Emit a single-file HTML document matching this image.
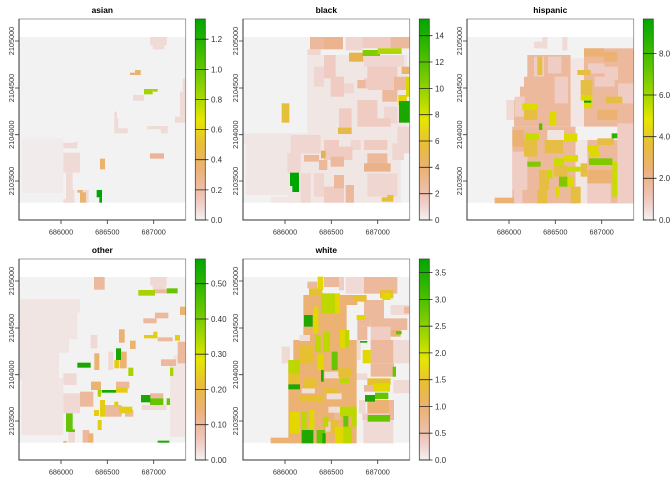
<!DOCTYPE html>
<html><head><meta charset="utf-8"><style>
html,body{margin:0;padding:0;background:#fff;}
svg{display:block;}
.t{font-family:"Liberation Sans",sans-serif;font-weight:bold;font-size:8.4px;fill:#000;text-anchor:middle;}
.ax{font-family:"Liberation Sans",sans-serif;font-size:7.3px;fill:#333;text-anchor:middle;}
.lg{font-family:"Liberation Sans",sans-serif;font-size:8px;fill:#333;}
</style></head><body>
<svg width="672" height="480" viewBox="0 0 672 480" xmlns="http://www.w3.org/2000/svg">
<defs>
<linearGradient id="g" x1="0" y1="1" x2="0" y2="0">
<stop offset="0" stop-color="#F2F2F2"/>
<stop offset="0.0625" stop-color="#F0D6D2"/>
<stop offset="0.125" stop-color="#EFC2B3"/>
<stop offset="0.25" stop-color="#ECB176"/>
<stop offset="0.375" stop-color="#E9BD3A"/>
<stop offset="0.5" stop-color="#E6E600"/>
<stop offset="0.625" stop-color="#A0D600"/>
<stop offset="0.75" stop-color="#63C600"/>
<stop offset="0.875" stop-color="#2DB600"/>
<stop offset="1" stop-color="#00A600"/>
</linearGradient>
<g id="axes">
<rect x="19" y="19" width="166.7" height="201" fill="none" stroke="#8a8a8a" stroke-width="0.8"/>
<path d="M19 19V220H185.7" fill="none" stroke="#333" stroke-width="1"/>
<path d="M61 220v4M107.3 220v4M153.7 220v4M19 41h-4M19 88h-4M19 134.7h-4M19 181h-4" stroke="#333" stroke-width="0.8"/>
<text class="ax" x="61" y="234.3">686000</text>
<text class="ax" x="107.3" y="234.3">686500</text>
<text class="ax" x="153.7" y="234.3">687000</text>
<text class="ax" transform="translate(14,41) rotate(-90)">2105000</text>
<text class="ax" transform="translate(14,88) rotate(-90)">2104500</text>
<text class="ax" transform="translate(14,134.7) rotate(-90)">2104000</text>
<text class="ax" transform="translate(14,181) rotate(-90)">2103500</text>
<rect x="195.3" y="19" width="10" height="201" fill="url(#g)" stroke="#444" stroke-width="0.8"/>
</g>
</defs>

<!-- ASIAN -->
<g transform="translate(0,0)">
<text class="t" x="102.3" y="12.8">asian</text>
<g transform="scale(0.333333)">
<rect x="57" y="111" width="500" height="497" fill="#F2F2F2"/>
<rect x="65" y="415" width="125" height="165" fill="#F1ECEB"/>
<g fill="#F0DAD6">
<rect x="450" y="111" width="50" height="25"/><rect x="458" y="136" width="35" height="12"/>
<rect x="399" y="285" width="33" height="17"/><rect x="548" y="235" width="9" height="60"/>
<rect x="540" y="275" width="17" height="75"/><rect x="525" y="350" width="32" height="18"/>
<rect x="343" y="335" width="8" height="30"/><rect x="343" y="355" width="12" height="45"/>
<rect x="355" y="385" width="28" height="15"/><rect x="442" y="378" width="60" height="10"/>
<rect x="483" y="378" width="20" height="22"/><rect x="190" y="428" width="42" height="17"/>
<rect x="225" y="425" width="8" height="10"/><rect x="190" y="458" width="50" height="60"/>
<rect x="198" y="518" width="20" height="90"/><rect x="198" y="570" width="25" height="38"/>
<rect x="248" y="570" width="18" height="38"/><rect x="190" y="598" width="10" height="10"/>
</g>
<g fill="#EBB270">
<rect x="405" y="210" width="17" height="15"/><rect x="390" y="218" width="32" height="7"/>
<rect x="300" y="476" width="15" height="32"/><rect x="240" y="577" width="18" height="31"/>
<rect x="232" y="570" width="16" height="8"/>
</g>
<rect x="450" y="460" width="42" height="16" fill="#EBB49A"/>
<rect x="432" y="267" width="26" height="16" fill="#A6D400"/><rect x="458" y="267" width="15" height="8" fill="#A6D400"/>
<rect x="290" y="570" width="16" height="22" fill="#00A600"/><rect x="298" y="592" width="8" height="16" fill="#00A600"/>
</g>
<use href="#axes"/>
<path d="M195.3 220h13.2M195.3 189.9h13.2M195.3 159.7h13.2M195.3 129.6h13.2M195.3 99.5h13.2M195.3 69.4h13.2M195.3 39.2h13.2" stroke="#222" stroke-width="0.8"/>
<g class="lg"><text x="211" y="222.9">0.0</text><text x="211" y="192.8">0.2</text><text x="211" y="162.6">0.4</text><text x="211" y="132.5">0.6</text><text x="211" y="102.4">0.8</text><text x="211" y="72.3">1.0</text><text x="211" y="42.1">1.2</text></g>
</g>

<!-- BLACK -->
<g transform="translate(224,0)">
<text class="t" x="102.3" y="12.8">black</text>
<g transform="scale(0.333333)">
<rect x="57" y="111" width="500" height="497" fill="#F2F2F2"/>
<g fill="#F0E6E4">
<rect x="65" y="415" width="130" height="170"/><rect x="57" y="400" width="140" height="30"/>
<rect x="140" y="590" width="58" height="18"/><rect x="190" y="400" width="340" height="208"/>
<rect x="250" y="165" width="300" height="235"/>
</g>
<g fill="#F0D6D0">
<rect x="250" y="148" width="40" height="17"/><rect x="365" y="111" width="50" height="40"/>
<rect x="270" y="200" width="30" height="60"/><rect x="360" y="250" width="30" height="30"/>
<rect x="480" y="320" width="40" height="50"/><rect x="200" y="405" width="90" height="55"/>
<rect x="380" y="420" width="30" height="30"/><rect x="270" y="520" width="30" height="70"/>
<rect x="430" y="520" width="90" height="70"/><rect x="230" y="520" width="30" height="88"/>
<rect x="505" y="430" width="35" height="50"/><rect x="520" y="380" width="37" height="80"/>
<rect x="420" y="165" width="120" height="35"/><rect x="190" y="460" width="40" height="60"/>
</g>
<g fill="#EFCBC2">
<rect x="415" y="111" width="142" height="34"/><rect x="300" y="165" width="35" height="70"/>
<rect x="320" y="230" width="40" height="60"/><rect x="345" y="325" width="38" height="60"/>
<rect x="430" y="200" width="90" height="70"/><rect x="400" y="300" width="60" height="80"/>
<rect x="440" y="355" width="60" height="25"/><rect x="300" y="420" width="45" height="60"/>
<rect x="345" y="440" width="40" height="40"/><rect x="420" y="420" width="70" height="30"/>
<rect x="300" y="560" width="60" height="48"/><rect x="420" y="235" width="50" height="30"/>
</g>
<g fill="#EDB99D">
<rect x="258" y="111" width="42" height="37"/><rect x="500" y="111" width="57" height="34"/>
<rect x="400" y="240" width="25" height="25"/><rect x="475" y="270" width="45" height="35"/>
<rect x="240" y="465" width="45" height="20"/><rect x="285" y="480" width="25" height="30"/>
<rect x="320" y="470" width="40" height="30"/><rect x="430" y="460" width="60" height="45"/>
<rect x="330" y="525" width="30" height="40"/><rect x="365" y="555" width="25" height="53"/>
<rect x="510" y="230" width="40" height="40"/>
</g>
<rect x="300" y="111" width="57" height="37" fill="#EBB48E"/>
<rect x="420" y="490" width="80" height="25" fill="#EBB28A"/>
<rect x="533" y="200" width="24" height="22" fill="#EBB270"/>
<rect x="375" y="158" width="43" height="27" fill="#E6B44A"/>
<rect x="342" y="383" width="41" height="19" fill="#E6BA46"/>
<rect x="291" y="452" width="14" height="23" fill="#E8B050"/>
<rect x="173" y="310" width="23" height="58" fill="#E4C03A"/>
<rect x="416" y="150" width="52" height="18" fill="#80CC00"/>
<rect x="461" y="145" width="72" height="17" fill="#B0D800"/>
<rect x="546" y="230" width="11" height="60" fill="#D8D800"/>
<rect x="523" y="285" width="25" height="30" fill="#E2D400"/>
<rect x="525" y="303" width="32" height="65" fill="#1AA800"/>
<rect x="198" y="518" width="27" height="40" fill="#00A600"/><rect x="205" y="555" width="20" height="21" fill="#00A600"/>
<rect x="473" y="592" width="35" height="13" fill="#E6C030"/><rect x="490" y="585" width="18" height="10" fill="#E6C030"/>
</g>
<use href="#axes"/>
<path d="M195.3 220h13.2M195.3 193.7h13.2M195.3 167.3h13.2M195.3 141h13.2M195.3 114.7h13.2M195.3 88.4h13.2M195.3 62h13.2M195.3 35.7h13.2" stroke="#222" stroke-width="0.8"/>
<g class="lg"><text x="211" y="222.9">0</text><text x="211" y="196.6">2</text><text x="211" y="170.2">4</text><text x="211" y="143.9">6</text><text x="211" y="117.6">8</text><text x="211" y="91.3">10</text><text x="211" y="64.9">12</text><text x="211" y="38.6">14</text></g>
</g>

<!-- HISPANIC -->
<g transform="translate(448,0)">
<text class="t" x="102.3" y="12.8">hispanic</text>
<g transform="scale(0.333333)">
<rect x="57" y="111" width="500" height="497" fill="#F2F2F2"/>
<g fill="#F0DAD6">
<rect x="258" y="125" width="25" height="20"/><rect x="283" y="111" width="15" height="35"/>
<rect x="343" y="111" width="15" height="40"/><rect x="175" y="300" width="25" height="60"/>
</g>
<g fill="#EDB99D">
<rect x="238" y="165" width="130" height="70"/><rect x="228" y="230" width="140" height="40"/>
<rect x="216" y="260" width="152" height="40"/><rect x="198" y="300" width="185" height="80"/>
<rect x="193" y="380" width="190" height="230"/><rect x="408" y="145" width="150" height="235"/>
<rect x="418" y="420" width="140" height="190"/>
</g>
<g fill="#F1E6E3">
<rect x="368" y="175" width="40" height="205"/><rect x="383" y="420" width="35" height="190"/>
</g>
<g fill="#EFCDC4">
<rect x="258" y="170" width="30" height="60"/><rect x="300" y="170" width="40" height="50"/>
<rect x="320" y="230" width="40" height="80"/><rect x="420" y="190" width="50" height="30"/>
<rect x="470" y="200" width="40" height="40"/><rect x="510" y="250" width="47" height="60"/>
<rect x="193" y="455" width="45" height="115"/><rect x="508" y="370" width="50" height="240"/>
<rect x="418" y="550" width="70" height="60"/><rect x="198" y="570" width="25" height="40"/>
<rect x="200" y="290" width="30" height="60"/><rect x="440" y="230" width="60" height="30"/>
</g>
<rect x="383" y="380" width="115" height="40" fill="#F2F2F2"/>
<rect x="298" y="390" width="50" height="30" fill="#F0E4E2"/>
<g fill="#EBB274">
<rect x="408" y="145" width="60" height="25"/><rect x="468" y="155" width="40" height="30"/>
<rect x="193" y="390" width="35" height="50"/><rect x="418" y="510" width="75" height="40"/>
<rect x="140" y="593" width="58" height="17"/><rect x="448" y="330" width="60" height="30"/>
</g>
<g fill="#E6BE44">
<rect x="268" y="170" width="15" height="55"/><rect x="398" y="240" width="35" height="45"/>
<rect x="473" y="290" width="50" height="20"/><rect x="228" y="330" width="40" height="30"/>
<rect x="228" y="420" width="40" height="50"/><rect x="448" y="415" width="50" height="20"/>
<rect x="398" y="490" width="20" height="40"/><rect x="318" y="495" width="40" height="35"/>
<rect x="368" y="560" width="30" height="50"/><rect x="273" y="510" width="30" height="60"/>
<rect x="268" y="570" width="30" height="40"/><rect x="388" y="210" width="40" height="15"/>
<rect x="290" y="420" width="55" height="40"/>
</g>
<g fill="#DEDA00">
<rect x="398" y="285" width="35" height="17"/><rect x="408" y="308" width="25" height="17"/>
<rect x="223" y="310" width="45" height="20"/><rect x="306" y="335" width="19" height="40"/>
<rect x="348" y="400" width="40" height="25"/><rect x="418" y="435" width="33" height="20"/>
<rect x="423" y="455" width="30" height="15"/><rect x="348" y="465" width="42" height="20"/>
<rect x="358" y="530" width="20" height="30"/><rect x="323" y="560" width="10" height="30"/>
</g>
<g fill="#C8DC00">
<rect x="231" y="400" width="42" height="20"/><rect x="318" y="475" width="30" height="20"/>
<rect x="358" y="500" width="40" height="15"/><rect x="298" y="510" width="15" height="25"/>
<rect x="493" y="485" width="15" height="105"/>
</g>
<g fill="#80C800">
<rect x="238" y="485" width="40" height="15"/><rect x="333" y="530" width="25" height="30"/>
<rect x="423" y="475" width="70" height="20"/>
</g>
<rect x="273" y="370" width="10" height="20" fill="#58C000"/>
<rect x="408" y="302" width="22" height="6" fill="#00A600"/>
<rect x="491" y="400" width="17" height="15" fill="#30B000"/>
</g>
<use href="#axes"/>
<path d="M195.3 220h13.2M195.3 178.3h13.2M195.3 136.7h13.2M195.3 95h13.2M195.3 53.4h13.2" stroke="#222" stroke-width="0.8"/>
<g class="lg"><text x="211" y="222.9">0.0</text><text x="211" y="181.2">2.0</text><text x="211" y="139.6">4.0</text><text x="211" y="97.9">6.0</text><text x="211" y="56.3">8.0</text></g>
</g>

<!-- OTHER -->
<g transform="translate(0,240)">
<text class="t" x="102.3" y="12.8">other</text>
<g transform="scale(0.333333)">
<rect x="57" y="111" width="500" height="497" fill="#F2F2F2"/>
<g fill="#F0E5E3">
<rect x="57" y="178" width="183" height="40"/><rect x="57" y="218" width="175" height="80"/>
<rect x="57" y="298" width="150" height="40"/><rect x="57" y="338" width="120" height="80"/>
<rect x="65" y="415" width="125" height="170"/><rect x="510" y="370" width="47" height="220"/>
<rect x="520" y="345" width="37" height="30"/>
</g>
<g fill="#F0D8D4">
<rect x="450" y="111" width="50" height="25"/><rect x="458" y="136" width="40" height="12"/>
<rect x="272" y="285" width="20" height="40"/><rect x="325" y="335" width="15" height="55"/>
<rect x="190" y="400" width="40" height="35"/><rect x="190" y="460" width="50" height="60"/>
<rect x="205" y="575" width="20" height="33"/><rect x="425" y="495" width="75" height="15"/>
</g>
<g fill="#EDB99D">
<rect x="282" y="111" width="32" height="38"/><rect x="460" y="148" width="40" height="12"/>
<rect x="465" y="218" width="40" height="17"/><rect x="430" y="235" width="40" height="15"/>
<rect x="473" y="292" width="45" height="12"/><rect x="533" y="305" width="24" height="65"/>
<rect x="483" y="358" width="45" height="20"/><rect x="348" y="425" width="40" height="20"/>
<rect x="240" y="455" width="40" height="45"/><rect x="315" y="495" width="50" height="35"/>
<rect x="375" y="510" width="25" height="20"/><rect x="450" y="460" width="40" height="15"/>
<rect x="248" y="570" width="20" height="38"/>
</g>
<g fill="#EBB270">
<rect x="540" y="200" width="17" height="25"/><rect x="283" y="340" width="15" height="50"/>
<rect x="357" y="268" width="17" height="40"/><rect x="390" y="302" width="17" height="25"/>
<rect x="360" y="335" width="20" height="50"/><rect x="273" y="425" width="30" height="25"/>
<rect x="265" y="580" width="15" height="28"/><rect x="190" y="603" width="10" height="5"/>
</g>
<g fill="#E4CC10">
<rect x="432" y="285" width="40" height="10"/><rect x="460" y="275" width="12" height="15"/>
<rect x="525" y="285" width="15" height="17"/><rect x="343" y="360" width="15" height="25"/>
<rect x="348" y="443" width="35" height="15"/><rect x="300" y="480" width="15" height="50"/>
<rect x="282" y="510" width="15" height="18"/><rect x="293" y="540" width="12" height="30"/>
<rect x="343" y="485" width="12" height="15"/><rect x="357" y="500" width="40" height="20"/>
</g>
<g fill="#A8D200">
<rect x="415" y="150" width="50" height="17"/><rect x="385" y="383" width="15" height="25"/>
<rect x="510" y="383" width="10" height="25"/><rect x="293" y="450" width="10" height="20"/>
</g>
<g fill="#66C400">
<rect x="500" y="145" width="33" height="15"/><rect x="198" y="520" width="20" height="55"/>
<rect x="205" y="568" width="20" height="8"/><rect x="450" y="475" width="40" height="20"/>
<rect x="500" y="475" width="10" height="20"/>
</g>
<g fill="#1AA800">
<rect x="348" y="325" width="15" height="35"/><rect x="232" y="368" width="40" height="15"/>
<rect x="305" y="450" width="43" height="8"/><rect x="423" y="465" width="28" height="22"/>
<rect x="473" y="602" width="35" height="6"/>
</g>
</g>
<use href="#axes"/>
<path d="M195.3 220h13.2M195.3 184.7h13.2M195.3 149.5h13.2M195.3 114.2h13.2M195.3 79h13.2M195.3 43.7h13.2" stroke="#222" stroke-width="0.8"/>
<g class="lg"><text x="211" y="222.9">0.00</text><text x="211" y="187.6">0.10</text><text x="211" y="152.4">0.20</text><text x="211" y="117.1">0.30</text><text x="211" y="81.9">0.40</text><text x="211" y="46.6">0.50</text></g>
</g>

<!-- WHITE -->
<g transform="translate(224,240)">
<text class="t" x="102.3" y="12.8">white</text>
<g transform="scale(0.333333)">
<rect x="57" y="111" width="500" height="497" fill="#F2F2F2"/>
<g fill="#F0DAD6">
<rect x="173" y="320" width="25" height="50"/><rect x="365" y="111" width="55" height="50"/>
<rect x="500" y="195" width="57" height="30"/><rect x="380" y="300" width="30" height="60"/>
<rect x="390" y="400" width="40" height="20"/><rect x="405" y="480" width="20" height="40"/>
<rect x="418" y="540" width="90" height="70"/><rect x="508" y="300" width="49" height="70"/>
<rect x="508" y="420" width="49" height="40"/>
</g>
<g fill="#EBB274">
<rect x="238" y="165" width="130" height="140"/><rect x="208" y="300" width="190" height="80"/>
<rect x="193" y="370" width="205" height="240"/><rect x="140" y="593" width="58" height="17"/>
<rect x="365" y="165" width="35" height="30"/><rect x="430" y="480" width="70" height="60"/>
<rect x="480" y="270" width="50" height="20"/>
</g>
<g fill="#EDB99D">
<rect x="250" y="125" width="30" height="20"/><rect x="300" y="111" width="45" height="30"/>
<rect x="420" y="111" width="100" height="50"/><rect x="420" y="180" width="60" height="60"/>
<rect x="400" y="240" width="40" height="20"/><rect x="440" y="235" width="110" height="35"/>
<rect x="440" y="300" width="68" height="70"/><rect x="440" y="370" width="70" height="40"/>
<rect x="420" y="435" width="30" height="20"/><rect x="495" y="480" width="15" height="60"/>
<rect x="330" y="510" width="20" height="30"/><rect x="400" y="260" width="30" height="40"/>
<rect x="540" y="200" width="17" height="20"/>
</g>
<g fill="#EFCDC4">
<rect x="345" y="111" width="15" height="40"/><rect x="440" y="260" width="60" height="40"/>
<rect x="415" y="520" width="80" height="20"/><rect x="305" y="545" width="15" height="30"/>
</g>
<g fill="#F0DED8">
<rect x="226" y="285" width="32" height="18"/><rect x="301" y="395" width="45" height="20"/>
<rect x="233" y="445" width="40" height="15"/><rect x="308" y="460" width="45" height="18"/>
<rect x="313" y="500" width="45" height="18"/>
</g>
<g fill="#E6C030">
<rect x="255" y="145" width="40" height="20"/><rect x="228" y="315" width="40" height="55"/>
<rect x="193" y="400" width="35" height="30"/><rect x="343" y="385" width="40" height="25"/>
<rect x="238" y="415" width="40" height="30"/><rect x="228" y="465" width="70" height="20"/>
<rect x="300" y="445" width="40" height="15"/><rect x="468" y="150" width="40" height="25"/>
<rect x="388" y="165" width="40" height="20"/><rect x="430" y="415" width="70" height="20"/>
<rect x="320" y="540" width="20" height="40"/>
</g>
<g fill="#E2D800">
<rect x="281" y="110" width="17" height="40"/><rect x="333" y="160" width="15" height="60"/>
<rect x="268" y="200" width="15" height="80"/><rect x="348" y="270" width="15" height="55"/>
<rect x="281" y="340" width="17" height="50"/><rect x="398" y="225" width="25" height="15"/>
<rect x="416" y="330" width="24" height="40"/><rect x="448" y="430" width="50" height="25"/>
<rect x="198" y="515" width="30" height="65"/><rect x="258" y="510" width="13" height="60"/>
<rect x="333" y="560" width="25" height="50"/><rect x="475" y="160" width="25" height="20"/>
</g>
<g fill="#BCD800">
<rect x="291" y="160" width="42" height="60"/><rect x="273" y="285" width="17" height="50"/>
<rect x="298" y="275" width="20" height="60"/><rect x="363" y="270" width="13" height="50"/>
<rect x="193" y="360" width="35" height="40"/><rect x="348" y="415" width="30" height="15"/>
<rect x="348" y="500" width="50" height="30"/><rect x="231" y="515" width="17" height="75"/>
<rect x="298" y="530" width="15" height="30"/><rect x="358" y="560" width="25" height="50"/>
<rect x="383" y="530" width="15" height="30"/>
</g>
<g fill="#66C400">
<rect x="323" y="335" width="18" height="55"/><rect x="453" y="458" width="40" height="19"/>
<rect x="431" y="525" width="67" height="20"/><rect x="358" y="528" width="15" height="32"/>
<rect x="278" y="570" width="25" height="40"/><rect x="506" y="380" width="10" height="30"/>
<rect x="516" y="273" width="17" height="10"/>
</g>
<g fill="#20A800">
<rect x="240" y="225" width="26" height="35"/><rect x="193" y="433" width="35" height="15"/>
<rect x="291" y="390" width="8" height="35"/><rect x="423" y="465" width="30" height="20"/>
<rect x="233" y="570" width="35" height="40"/><rect x="408" y="303" width="22" height="5"/>
<rect x="295" y="580" width="10" height="30"/>
</g>
</g>
<use href="#axes"/>
<path d="M195.3 220h13.2M195.3 193.2h13.2M195.3 166.5h13.2M195.3 139.7h13.2M195.3 112.9h13.2M195.3 86.2h13.2M195.3 59.4h13.2M195.3 32.6h13.2" stroke="#222" stroke-width="0.8"/>
<g class="lg"><text x="211" y="222.9">0.0</text><text x="211" y="196.1">0.5</text><text x="211" y="169.4">1.0</text><text x="211" y="142.6">1.5</text><text x="211" y="115.8">2.0</text><text x="211" y="89.1">2.5</text><text x="211" y="62.3">3.0</text><text x="211" y="35.5">3.5</text></g>
</g>
</svg>
</body></html>
